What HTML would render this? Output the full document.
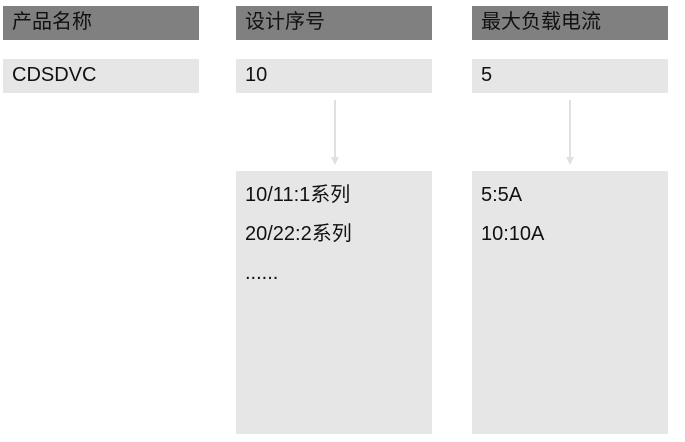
<!DOCTYPE html>
<html><head><meta charset="utf-8"><style>
body{margin:0;width:685px;height:442px;background:#fff;position:relative;overflow:hidden;font-family:"Liberation Sans","Noto Sans CJK SC",sans-serif;font-size:20px;color:#111}
.b{position:absolute;box-sizing:border-box;padding-left:9px}
.h{background:#808080;height:34px;line-height:32px;top:6px;width:196px;color:#111}
.r{background:#e6e6e6;height:34px;line-height:32px;top:59px;width:196px}
.big{background:#e6e6e6;top:171px;height:263px;width:196px;padding-top:5px;line-height:39px}
</style></head><body>
<div class="b h" style="left:3px">产品名称</div>
<div class="b h" style="left:236px">设计序号</div>
<div class="b h" style="left:472px">最大负载电流</div>
<div class="b r" style="left:3px">CDSDVC</div>
<div class="b r" style="left:236px">10</div>
<div class="b r" style="left:472px">5</div>
<div class="b big" style="left:236px">10/11:1系列<br>20/22:2系列<br>......</div>
<div class="b big" style="left:472px">5:5A<br>10:10A</div>
<svg width="685" height="442" style="position:absolute;left:0;top:0">
<g stroke="#e0e0e0" stroke-width="2"><line x1="335" y1="100" x2="335" y2="158"/><line x1="570" y1="100" x2="570" y2="158"/></g>
<g fill="#e0e0e0"><polygon points="331,157 339,157 335,165"/><polygon points="566,157 574,157 570,165"/></g>
</svg>
</body></html>
